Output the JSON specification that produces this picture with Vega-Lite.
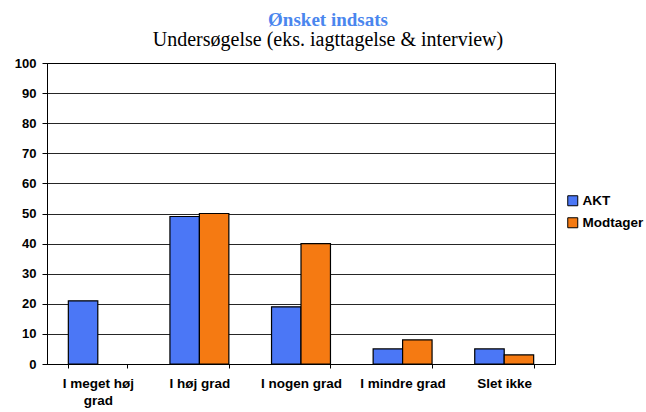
{
  "$schema": "https://vega.github.io/schema/vega-lite/v6.json",
  "autosize": "none",
  "width": 508,
  "height": 301,
  "padding": {"left": 47, "top": 63, "right": 91, "bottom": 48},
  "background": "white",
  "title": {
    "text": "Ønsket indsats",
    "subtitle": "Undersøgelse (eks. iagttagelse & interview)",
    "font": "Liberation Serif",
    "fontSize": 19,
    "fontWeight": "bold",
    "color": "#4a86ee",
    "subtitleFont": "Liberation Serif",
    "subtitleFontSize": 20,
    "subtitleColor": "#000000",
    "subtitlePadding": 0,
    "anchor": "middle",
    "dx": 27,
    "offset": 7
  },
  "config": {
    "view": {"stroke": "#000000", "strokeWidth": 1},
    "axis": {
      "labelFont": "Liberation Sans",
      "labelFontWeight": "bold",
      "labelFontSize": 13.5,
      "labelColor": "#000000",
      "domainColor": "#000000",
      "tickColor": "#000000",
      "gridColor": "#000000",
      "gridOpacity": 0.85
    }
  },
  "data": {
    "values": [
      {"kategori": "I meget høj grad", "serie": "AKT", "value": 21},
      {"kategori": "I meget høj grad", "serie": "Modtager", "value": 0},
      {"kategori": "I høj grad", "serie": "AKT", "value": 49},
      {"kategori": "I høj grad", "serie": "Modtager", "value": 50},
      {"kategori": "I nogen grad", "serie": "AKT", "value": 19},
      {"kategori": "I nogen grad", "serie": "Modtager", "value": 40},
      {"kategori": "I mindre grad", "serie": "AKT", "value": 5},
      {"kategori": "I mindre grad", "serie": "Modtager", "value": 8},
      {"kategori": "Slet ikke", "serie": "AKT", "value": 5},
      {"kategori": "Slet ikke", "serie": "Modtager", "value": 3}
    ]
  },
  "encoding": {
    "x": {
      "field": "kategori",
      "type": "nominal",
      "sort": null,
      "title": null,
      "scale": {"paddingInner": 0.42, "paddingOuter": 0.21},
      "axis": {
        "labelAngle": 0,
        "tickBand": "extent",
        "tickSize": 4,
        "labelPadding": 8,
        "labelLineHeight": 17,
        "labelExpr": "datum.label == 'I meget høj grad' ? ['I meget høj', 'grad'] : datum.label"
      }
    },
    "xOffset": {"field": "serie", "type": "nominal", "scale": {"paddingInner": 0, "paddingOuter": 0}},
    "y": {
      "field": "value",
      "type": "quantitative",
      "title": null,
      "scale": {"domain": [0, 100], "nice": false},
      "axis": {"values": [0, 10, 20, 30, 40, 50, 60, 70, 80, 90, 100], "tickSize": 5, "labelPadding": 6, "grid": true, "labelFontSize": 13}
    }
  },
  "layer": [
    {
      "transform": [{"filter": "datum.value > 0"}],
      "mark": {"type": "bar", "color": "#c8c8c8", "xOffset": 3, "x2Offset": 3},
      "encoding": {}
    },
    {
      "transform": [{"filter": "datum.value > 0"}],
      "mark": {"type": "bar", "stroke": "#000000", "strokeWidth": 1.2},
      "encoding": {
        "color": {
          "field": "serie",
          "type": "nominal",
          "scale": {"domain": ["AKT", "Modtager"], "range": ["#4b77f6", "#f57a12"]},
          "legend": {
            "title": null,
            "orient": "none",
            "legendX": 519,
            "legendY": 131,
            "symbolType": "square",
            "symbolSize": 100,
            "symbolStrokeColor": "#000000",
            "symbolStrokeWidth": 1,
            "symbolOpacity": 1,
            "labelFont": "Liberation Sans",
            "labelFontWeight": "bold",
            "labelFontSize": 13.5,
            "labelColor": "#000000",
            "labelOffset": 3,
            "rowPadding": 7
          }
        }
      }
    }
  ]
}
